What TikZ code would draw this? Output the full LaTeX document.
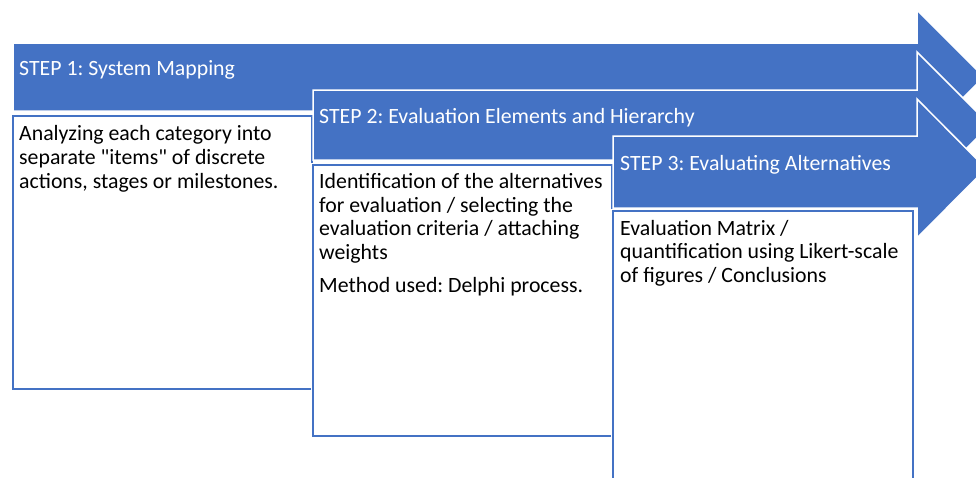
\documentclass[tikz,border=0pt]{standalone}
\usepackage{fontspec}
\setmainfont{Carlito}[Ligatures=TeXOff]
\frenchspacing
\definecolor{accent}{HTML}{4472C4}
\tikzset{
  arrowshape/.style={fill=accent, draw=white, line width=1.5pt, line join=miter},
  boxframe/.style={fill=white, draw=accent, line width=2pt},
  boxhalo/.style={draw=white, line width=4pt},
  headtext/.style={anchor=base west, inner sep=0pt, text=white, font=\fontsize{21.8}{23.8}\selectfont\frenchspacing},
  bodytext/.style={anchor=base west, inner sep=0pt, align=left, text=black, font=\fontsize{21.8}{23.8}\selectfont\frenchspacing},
}
\begin{document}
\begin{tikzpicture}[x=1pt,y=-1pt]
\useasboundingbox (0,0) rectangle (976,477);
\clip (0,0) rectangle (976,477);
% step 1
\path[arrowshape] (13,43) -- (917,43) -- (917,10) -- (984,77) -- (917,144) -- (917,111) -- (13,111) -- cycle;
\draw[boxhalo] (13,116) rectangle (312,389);
\draw[boxframe] (13,116) rectangle (312,389);
\node[headtext] (h1) at (19,75) {STEP 1: System Mapping};
\node[bodytext] (b1) at (19,188.1) {Analyzing each category into\\separate "items" of discrete\\actions, stages or milestones.};
% step 2
\path[arrowshape] (313,90) -- (917,90) -- (917,52) -- (990,125) -- (917,198) -- (917,160) -- (313,160) -- cycle;
\draw[boxhalo] (313,165) rectangle (612,436);
\draw[boxframe] (313,165) rectangle (612,436);
\node[headtext] (h2) at (319,123) {STEP 2: Evaluation Elements and Hierarchy};
\node[bodytext] (b2) at (319,292.5) {Identification of the alternatives\\for evaluation / selecting the\\evaluation criteria / attaching\\weights\\[9pt]Method used: Delphi process.};
% step 3
\path[arrowshape] (613,136) -- (917,136) -- (917,99) -- (986,168.5) -- (917,238) -- (917,208) -- (613,208) -- cycle;
\draw[boxhalo] (613,211) rectangle (913,520);
\draw[boxframe] (613,211) rectangle (913,520);
\node[headtext] (h3) at (620,170) {STEP 3: Evaluating Alternatives};
\node[bodytext] (b3) at (620,282.6) {Evaluation Matrix /\\quantification using Likert-scale\\of figures / Conclusions};
\end{tikzpicture}
\end{document}
